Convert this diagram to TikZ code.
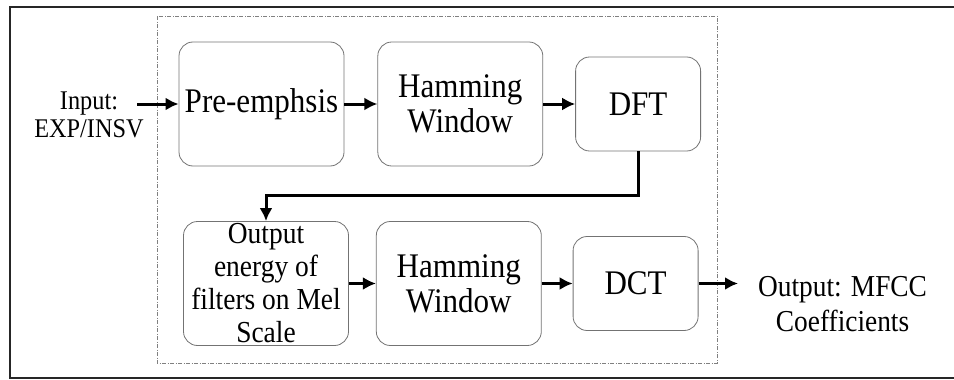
\documentclass[tikz,border=0pt]{standalone}
\usepackage{fontspec}
\setmainfont{Liberation Serif}[FakeStretch=0.9]
\usepackage{tikz}
\usetikzlibrary{positioning}
\usetikzlibrary{calc}
\usetikzlibrary{arrows.meta}

\begin{document}
\begin{tikzpicture}[
    x=1pt, y=-1pt,              % pixel-like units, y going down
    node distance=32pt,         % spacing between boxes in a row
    ]
% -------------------------------------------------
\tikzset{
  base/.style={draw=black!55, line width=0.8pt, rounded corners=14pt, align=center, inner sep=0pt},
  proc/.style={base, rectangle, minimum width=165pt, minimum height=124pt, font=\fontsize{34.5}{35}\selectfont},
  small/.style={base, rectangle, minimum width=125pt, minimum height=94pt, font=\fontsize{34.5}{35}\selectfont},
  label/.style={align=center, inner sep=0pt},
  line/.style={draw, line width=3pt, -{Latex[length=13pt,width=13pt]}}
}
\useasboundingbox (0,0) rectangle (954,380);
% -------------------------------------------------
% Frames
\draw[line width=1.4pt, black!85] (960,7) -- (10,7) -- (10,378) -- (960,378);
\draw[black!50, line width=0.7pt, dash pattern=on 4pt off 1.5pt on 1pt off 1.5pt] (157,16) rectangle (717,363);

% Placing the nodes
\node [proc] (pre) at (261.5,104) {Pre-emphsis};
\node [proc, right=33pt of pre] (ham) {Hamming\\Window};
\node [small, right=of ham] (dft) {DFT};

\node [proc, font=\fontsize{30.5}{33}\selectfont] (mel) at (266,283.5) {Output\\energy of\\filters on Mel\\Scale};
\node [proc, right=27pt of mel] (hamb) {Hamming\\Window};
\node [small, right=31pt of hamb] (dct) {DCT};

\node [label, font=\fontsize{27}{28}\selectfont] (inp) at (89,115) {Input:\\EXP/INSV};
\node [label, anchor=west, font=\fontsize{30.4}{35}\selectfont] (outp) at (758,304) {Output: MFCC\\Coefficients};

\coordinate (inpend) at (137,104);
\coordinate (outend) at (738,283.5);

\path [line] (inpend) -- (pre);
\path [line] (pre) -- (ham);
\path [line] (ham) -- (dft);
\path [line] (dft.south) -- ++(0,44) -| (mel.north);
\path [line] (mel) -- (hamb);
\path [line] (hamb) -- (dct);
\path [line] (dct) -- (outend);

\end{tikzpicture}
\end{document}
